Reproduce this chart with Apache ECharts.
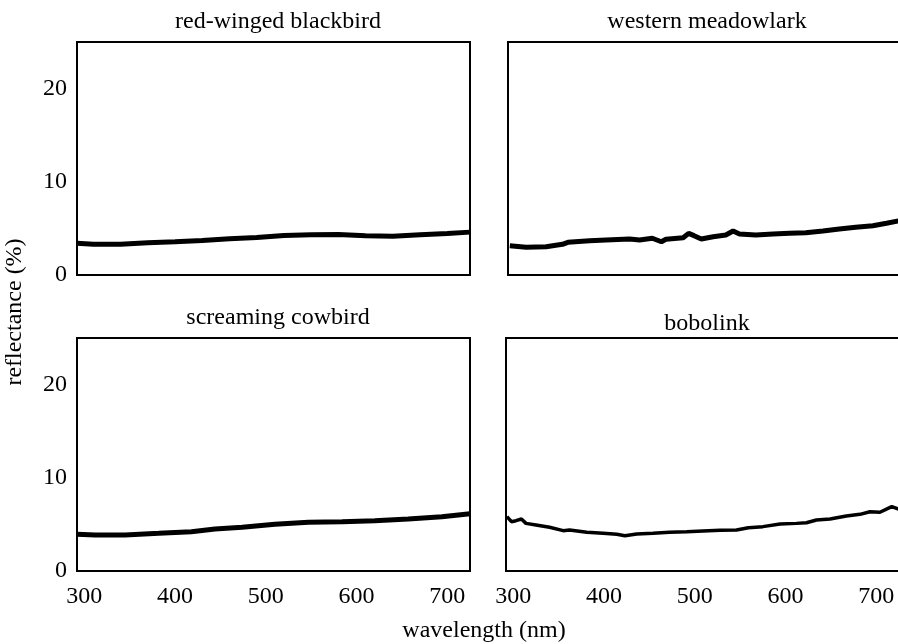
<!DOCTYPE html>
<html>
<head>
<meta charset="utf-8">
<title>reflectance spectra</title>
<script src="https://cdn.jsdelivr.net/npm/echarts@6/dist/echarts.min.js"></script>
<style>
  html, body { margin: 0; padding: 0; background: #fff; }
  #chart { width: 898px; height: 644px; }
</style>
</head>
<body>
<div id="chart"></div>
<script>
// panel titles
const birds = ['red-winged blackbird', 'western meadowlark', 'screaming cowbird', 'bobolink'];

// tick labels
const xTicks = [300, 400, 500, 600, 700];
const yTicks = [0, 10, 20];

// red-winged blackbird
const rwbWave = [292, 310, 340, 370, 400, 430, 460, 490, 520, 550, 580, 610, 640, 670, 700, 725];
const rwbRefl = [3.4, 3.3, 3.3, 3.45, 3.57, 3.7, 3.88, 4.03, 4.25, 4.33, 4.35, 4.22, 4.15, 4.32, 4.45, 4.6];

// western meadowlark
const wmWave = [294, 312, 334, 352, 358, 382, 400, 426, 437, 451, 461, 466, 485, 491, 497, 505, 518, 532, 540, 547, 565, 584, 602, 620, 639, 657, 675, 694, 709, 725];
const wmRefl = [3.14, 2.97, 3.04, 3.29, 3.51, 3.68, 3.76, 3.86, 3.76, 3.94, 3.57, 3.83, 4.0, 4.47, 4.22, 3.86, 4.11, 4.29, 4.72, 4.4, 4.29, 4.4, 4.47, 4.54, 4.72, 4.94, 5.12, 5.29, 5.55, 5.85];

// screaming cowbird
const scWave = [292, 312, 345, 382, 418, 444, 474, 510, 547, 584, 620, 657, 694, 725];
const scRefl = [3.94, 3.86, 3.86, 4.04, 4.22, 4.51, 4.69, 5.01, 5.22, 5.29, 5.4, 5.58, 5.83, 6.15];

// bobolink
const boWave = [293, 298, 303, 309, 314, 325, 340, 355, 362, 381, 399, 414, 423, 436, 454, 472, 491, 509, 528, 546, 559, 575, 594, 612, 623, 634, 649, 667, 682, 693, 704, 717, 725];
const boRefl = [5.83, 5.29, 5.4, 5.58, 5.11, 4.94, 4.69, 4.33, 4.4, 4.15, 4.04, 3.94, 3.79, 3.97, 4.04, 4.15, 4.22, 4.29, 4.36, 4.4, 4.65, 4.76, 5.04, 5.11, 5.18, 5.47, 5.58, 5.9, 6.08, 6.36, 6.3, 6.9, 6.62];

const waves = [rwbWave, wmWave, scWave, boWave];
const refls = [rwbRefl, wmRefl, scRefl, boRefl];

const FONT = '"Liberation Serif", "DejaVu Serif", serif';
const FS = 24;

// panel boxes in pixels (right column runs off the page edge, as in the scan)
const panels = [
  { left: 77, top: 42, width: 393, height: 233 },
  { left: 508, top: 42, width: 393, height: 233 },
  { left: 77, top: 338, width: 393, height: 233 },
  { left: 506, top: 338, width: 393, height: 233 },
];
const titleY = [5, 5, 301, 307];

const chart = echarts.init(document.getElementById('chart'), null, { renderer: 'canvas' });

const grid = panels.map((p) => ({
  left: p.left,
  top: p.top,
  width: p.width,
  height: p.height,
  show: true,
  borderColor: '#000',
  borderWidth: 2,
  backgroundColor: 'transparent',
  containLabel: false,
  outerBoundsMode: 'none',
}));

const xAxis = panels.map((p, i) => ({
  type: 'value',
  gridIndex: i,
  min: 292,
  max: 725,
  axisLine: { show: false },
  axisTick: { show: false },
  splitLine: { show: false },
  axisLabel: {
    show: i >= 2,
    customValues: xTicks,
    margin: 14,
    color: '#000',
    fontFamily: FONT,
    fontSize: FS,
  },
}));

const yAxis = panels.map((p, i) => ({
  type: 'value',
  gridIndex: i,
  min: 0,
  max: 25,
  axisLine: { show: false },
  axisTick: { show: false },
  splitLine: { show: false },
  axisLabel: {
    show: i % 2 === 0,
    customValues: yTicks,
    margin: 10,
    color: '#000',
    fontFamily: FONT,
    fontSize: FS,
  },
}));

const series = birds.map((name, i) => ({
  name,
  type: 'line',
  xAxisIndex: i,
  yAxisIndex: i,
  showSymbol: false,
  silent: true,
  lineStyle: { color: '#000', width: i === 3 ? 3.5 : 5 },
  data: waves[i].map((w, j) => [w, refls[i][j]]),
}));

const title = birds.map((name, i) => ({
  text: name,
  left: i % 2 ? 702 : 273,
  top: titleY[i],
  textAlign: 'center',
  textStyle: { fontFamily: FONT, fontSize: FS, fontWeight: 'normal', color: '#000' },
}));

chart.setOption({
  animation: false,
  title,
  grid,
  xAxis,
  yAxis,
  series,
  graphic: [
    {
      type: 'text',
      x: 15,
      y: 312,
      rotation: Math.PI / 2,
      style: {
        text: 'reflectance (%)',
        font: `${FS}px ${FONT}`,
        fill: '#000',
        textAlign: 'center',
        textVerticalAlign: 'middle',
      },
    },
    {
      type: 'text',
      x: 484,
      y: 631,
      style: {
        text: 'wavelength (nm)',
        font: `${FS}px ${FONT}`,
        fill: '#000',
        textAlign: 'center',
        textVerticalAlign: 'middle',
      },
    },
  ],
});
</script>
</body>
</html>
